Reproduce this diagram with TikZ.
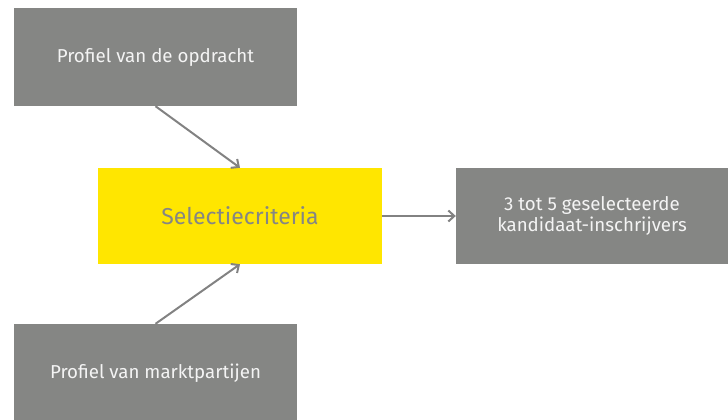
\documentclass[tikz,border=0pt]{standalone}
\usepackage{fontspec}
\setmainfont{Fira Sans}
\usetikzlibrary{arrows.meta}
\definecolor{boxgray}{HTML}{858684}
\definecolor{arrgray}{HTML}{828282}
\definecolor{selyellow}{HTML}{FFE600}
\definecolor{txtwhite}{HTML}{F4F4F4}
\begin{document}
\begin{tikzpicture}[x=1pt,y=-1pt,
  graybox/.style={fill=boxgray, draw=none, inner sep=0pt, text=txtwhite,
    font=\fontsize{18.7}{21.5}\selectfont, align=center},
  yellowbox/.style={fill=selyellow, draw=none, inner sep=0pt, text=boxgray,
    font=\fontsize{23}{26}\selectfont, align=center},
  arr/.style={draw=arrgray, line width=2pt, -{Straight Barb[length=6pt,width=11pt,line width=2pt]}}
]
\useasboundingbox (0,0) rectangle (728,420);
\node[graybox, minimum width=283pt, minimum height=98pt] (top) at (155.5,57) {Profiel van de opdracht};
\node[yellowbox, minimum width=284pt, minimum height=96pt] (sel) at (240,216) {Selectiecriteria};
\node[graybox, minimum width=272pt, minimum height=96pt] (res) at (592,216) {3 tot 5 geselecteerde\\kandidaat-inschrijvers};
\node[graybox, minimum width=283pt, minimum height=98pt] (bot) at (155.5,373) {Profiel van marktpartijen};
\draw[arr] (top.south) -- (sel.north);
\draw[arr] (bot.north) -- (sel.south);
\draw[arr] (sel.east) -- (res.west);
\end{tikzpicture}
\end{document}
